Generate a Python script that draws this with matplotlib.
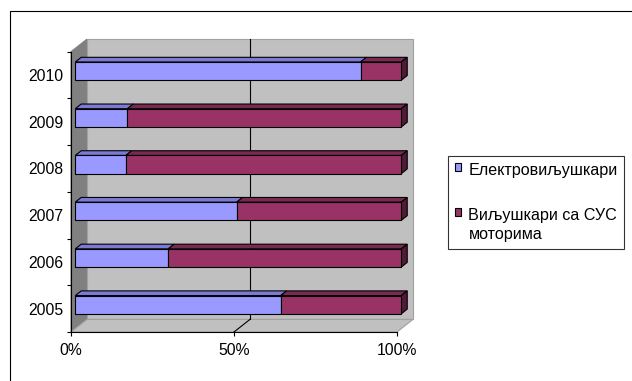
import numpy as np
import matplotlib
matplotlib.use('Agg')
import matplotlib.pyplot as plt
from matplotlib.patches import Polygon, Rectangle, Patch

plt.rcParams['font.family'] = ['Liberation Sans', 'DejaVu Sans']

years = ['2005', '2006', '2007', '2008', '2009', '2010']
electric = [63.0, 28.5, 49.5, 15.5, 16.0, 87.5]
engine = [37.0, 71.5, 50.5, 84.5, 84.0, 12.5]
series_names = ['Електровиљушкари', 'Виљушкари са СУС\nмоторима']
x_ticks = [0, 50, 100]
x_labels = ['0%', '50%', '100%']

front_col = ['#9999ff', '#993366']
top_col = ['#7b7bd6', '#7a2952']
side_col = '#521a36'

fig = plt.figure(figsize=(6.32, 3.81), dpi=100)
ax = fig.add_axes([71 / 632, 49 / 381, 326 / 632, 280.3 / 381])
n = len(years)
ax.set_xlim(0, 100)
ax.set_ylim(0, n)
ax.patch.set_visible(False)

# depth of the fake 3-d box, in data units
DX, DY = 4.9, 0.27

# walls and floor
ax.add_patch(Polygon([(0, 0), (0, n), (DX, n + DY), (DX, DY)],
                     fc='#808080', ec='#808080', lw=0.8, clip_on=False, zorder=0))
ax.add_patch(Polygon([(DX, DY), (DX, n + DY), (100 + DX, n + DY), (100 + DX, DY)],
                     fc='#c0c0c0', ec='#a0a0a0', lw=0.8, clip_on=False, zorder=0))
ax.add_patch(Polygon([(0, 0), (100, 0), (100 + DX, DY), (DX, DY)],
                     fc='#c0c0c0', ec='#a0a0a0', lw=0.8, clip_on=False, zorder=0))
ax.plot([50 + DX, 50 + DX], [DY, n + DY], color='black', lw=0.8, clip_on=False, zorder=1)
ax.plot([50, 50 + DX], [0, DY], color='black', lw=0.8, clip_on=False, zorder=1)

# 100% stacked bars
tot = np.array(electric) + np.array(engine)
shares = [np.array(electric) / tot * 100, np.array(engine) / tot * 100]
d0, t, h = 0.27, 0.37, 0.39
y = np.arange(n) + 0.585
left = np.zeros(n) + d0 * DX
for k in range(2):
    ax.barh(y, shares[k], height=h, left=left, color=front_col[k],
            edgecolor='black', lw=0.8, clip_on=False, zorder=3)
    for i in range(n):
        x0 = left[i]
        x1 = x0 + shares[k][i]
        yt = y[i] + h / 2
        ax.add_patch(Polygon([(x0, yt), (x1, yt), (x1 + t * DX, yt + t * DY), (x0 + t * DX, yt + t * DY)],
                             fc=top_col[k], ec='black', lw=0.8, clip_on=False, zorder=2))
    left = left + shares[k]

for i in range(n):
    x1 = left[i]
    yb, yt = y[i] - h / 2, y[i] + h / 2
    ax.add_patch(Polygon([(x1, yb), (x1, yt), (x1 + t * DX, yt + t * DY), (x1 + t * DX, yb + t * DY)],
                         fc=side_col, ec='black', lw=0.8, clip_on=False, zorder=2))

# axes
for s in ['top', 'right']:
    ax.spines[s].set_visible(False)
for s in ['left', 'bottom']:
    ax.spines[s].set_linewidth(0.8)
ax.set_yticks(range(n + 1))
ax.set_yticklabels([])
ax.set_yticks(np.arange(n) + 0.5, minor=True)
ax.set_yticklabels(years, minor=True)
ax.tick_params(axis='y', which='major', length=3, width=0.8, direction='out')
ax.tick_params(axis='y', which='minor', length=0, pad=5.5, labelsize=11.3)
ax.set_xticks(x_ticks)
ax.set_xticklabels(x_labels)
ax.tick_params(axis='x', length=3, width=0.8, pad=5, labelsize=11.3)

# legend
handles = [Patch(fc=front_col[k], ec='black', lw=0.8) for k in range(2)]
leg = fig.legend(handles, series_names, loc='upper left',
                 bbox_to_anchor=(448 / 632, 1 - 156 / 381), frameon=True,
                 fancybox=False, edgecolor='black', fontsize=11.6,
                 handlelength=0.4, handleheight=0.4, handletextpad=0.45,
                 labelspacing=1.85, borderpad=0.42, borderaxespad=0)
leg.get_frame().set_linewidth(0.8)
for txt in leg.get_texts():
    txt.set_linespacing(1.4)
for col in leg._legend_handle_box.get_children():
    for item in col.get_children():
        item.align = 'top'

# outer chart border
fig.add_artist(Rectangle((9.5 / 632, -0.1), 1.0, 1 - 11 / 381 + 0.1,
                         transform=fig.transFigure, fill=False, ec='black', lw=0.8))

fig.savefig('out.png', dpi=100)
